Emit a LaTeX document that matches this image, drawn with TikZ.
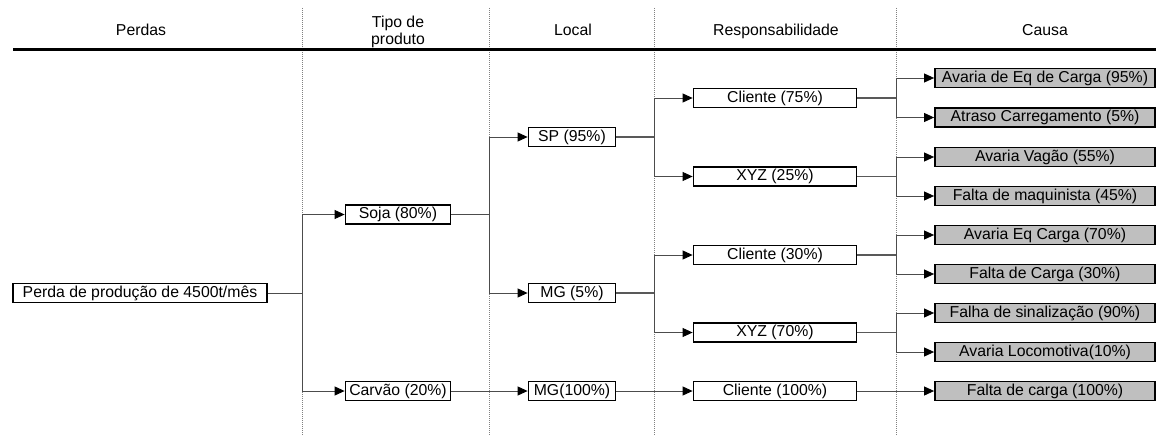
\documentclass[tikz,border=0pt]{standalone}
\usepackage{fontspec}
\setmainfont{Liberation Sans}
\usetikzlibrary{arrows.meta}
\begin{document}
\begin{tikzpicture}[x=1pt,y=-1pt,
  txt/.style={font=\fontsize{15.8}{17}\selectfont},
  box/.style={draw, line width=1.8pt, inner sep=0pt, minimum height=19pt, txt},
  cbox/.style={box, fill=gray!50, minimum width=220pt},
  rbox/.style={box, minimum width=163pt},
  lbox/.style={box, minimum width=87pt},
  tbox/.style={box, minimum width=105pt},
  divider/.style={gray, line width=0.6pt, dash pattern=on 1pt off 1pt},
  stem/.style={black!65, line width=1.8pt},
  thin/.style={black!70, line width=0.9pt},
  arr/.style={black!70, line width=0.9pt, -{Triangle[length=10pt,width=9pt,color=black]}},
  head/.style={txt, anchor=base}
]
\useasboundingbox (0,0) rectangle (1156,436);
% column dividers
\coordinate (d1) at (302,8);
\coordinate (d2) at (489,8);
\coordinate (d3) at (654,8);
\coordinate (d4) at (896,8);
\coordinate (e1) at (302,436);
\coordinate (e2) at (489,436);
\coordinate (e3) at (654,436);
\coordinate (e4) at (896,436);
\draw[divider] (d1) -- (e1);
\draw[divider] (d2) -- (e2);
\draw[divider] (d3) -- (e3);
\draw[divider] (d4) -- (e4);
% header
\node[head] (h1) at (141,36) {Perdas};
\node[txt, align=center, inner sep=0pt] (h2) at (398,32) {Tipo de\\produto};
\node[head] (h3) at (573,36) {Local};
\node[head] (h4) at (776,36) {Responsabilidade};
\node[head] (h5) at (1045,36) {Causa};
\coordinate (hl) at (13,49.5);
\coordinate (hr) at (1156,49.5);
\draw[line width=2.5pt] (hl) -- (hr);
% nodes
\node[box, minimum width=254pt] (perda) at (140,293) {Perda de produção de 4500t/mês};
\node[tbox] (soja) at (398,214.5) {Soja (80\%)};
\node[tbox] (carvao) at (398,391) {Carvão (20\%)};
\node[lbox] (sp) at (572,137) {SP (95\%)};
\node[lbox] (mg5) at (572,293) {MG (5\%)};
\node[lbox] (mg100) at (572,391) {MG(100\%)};
\node[rbox] (c75) at (775,98) {Cliente (75\%)};
\node[rbox] (x25) at (775,176.5) {XYZ (25\%)};
\node[rbox] (c30) at (775,255) {Cliente (30\%)};
\node[rbox] (x70) at (775,332.5) {XYZ (70\%)};
\node[rbox] (c100) at (775,391) {Cliente (100\%)};
\node[cbox] (k1) at (1045,78) {Avaria de Eq de Carga (95\%)};
\node[cbox] (k2) at (1045,117.5) {Atraso Carregamento (5\%)};
\node[cbox] (k3) at (1045,157) {Avaria Vagão (55\%)};
\node[cbox] (k4) at (1045,196) {Falta de maquinista (45\%)};
\node[cbox] (k5) at (1045,235) {Avaria Eq Carga (70\%)};
\node[cbox] (k6) at (1045,274) {Falta de Carga (30\%)};
\node[cbox] (k7) at (1045,313) {Falha de sinalização (90\%)};
\node[cbox] (k8) at (1045,352) {Avaria Locomotiva(10\%)};
\node[cbox] (k9) at (1045,391) {Falta de carga (100\%)};
% connectors: level 1
\draw[thin] (perda.east) -- (perda.east -| d1);
\draw[arr] (perda.east -| d1) |- (soja.west);
\draw[arr] (perda.east -| d1) |- (carvao.west);
% level 2
\draw[thin] (soja.east) -- (soja.east -| d2);
\draw[arr] (soja.east -| d2) |- (sp.west);
\draw[arr] (soja.east -| d2) |- (mg5.west);
\draw[arr] (carvao.east) -- (mg100.west);
% level 3
\draw[stem] (sp.east) -- (sp.east -| d3);
\draw[arr] (sp.east -| d3) |- (c75.west);
\draw[arr] (sp.east -| d3) |- (x25.west);
\draw[stem] (mg5.east) -- (mg5.east -| d3);
\draw[arr] (mg5.east -| d3) |- (c30.west);
\draw[arr] (mg5.east -| d3) |- (x70.west);
\draw[arr] (mg100.east) -- (c100.west);
% level 4
\draw[stem] (c75.east) -- (c75.east -| d4);
\draw[arr] (c75.east -| d4) |- (k1.west);
\draw[arr] (c75.east -| d4) |- (k2.west);
\draw[stem] (x25.east) -- (x25.east -| d4);
\draw[arr] (x25.east -| d4) |- (k3.west);
\draw[arr] (x25.east -| d4) |- (k4.west);
\draw[stem] (c30.east) -- (c30.east -| d4);
\draw[arr] (c30.east -| d4) |- (k5.west);
\draw[arr] (c30.east -| d4) |- (k6.west);
\draw[stem] (x70.east) -- (x70.east -| d4);
\draw[arr] (x70.east -| d4) |- (k7.west);
\draw[arr] (x70.east -| d4) |- (k8.west);
\draw[arr] (c100.east) -- (k9.west);
\end{tikzpicture}
\end{document}
